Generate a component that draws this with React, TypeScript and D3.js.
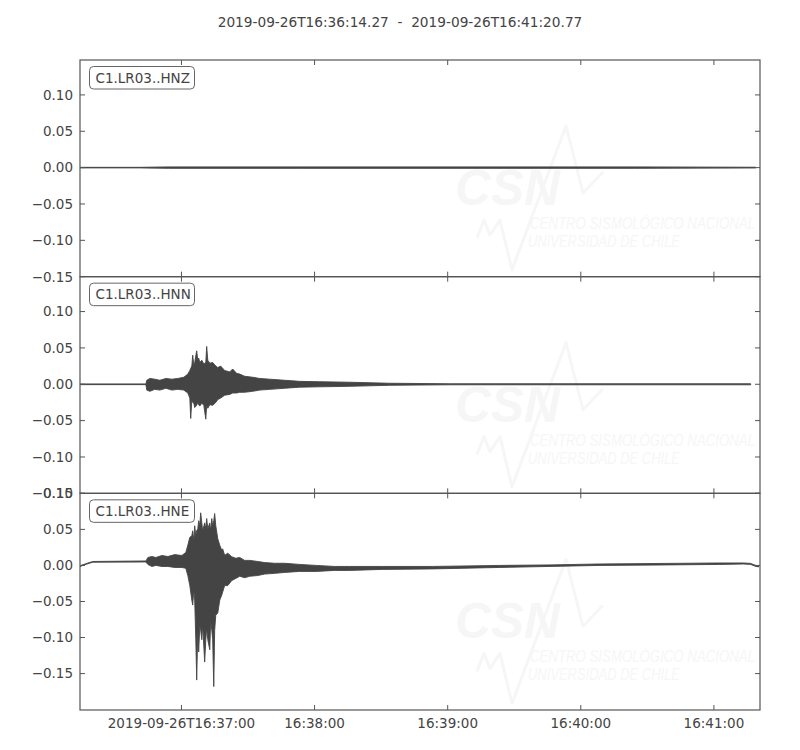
import React from 'react';
import * as d3 from 'd3';

// ---------- data ----------
const titleText = '2019-09-26T16:36:14.27  -  2019-09-26T16:41:20.77';
const startMs = Date.UTC(2019, 8, 26, 16, 36, 14, 270);
const endMs = Date.UTC(2019, 8, 26, 16, 41, 20, 770);

const xTickMinutes = [37, 38, 39, 40, 41];
const xTickLabels = ['2019-09-26T16:37:00', '16:38:00', '16:39:00', '16:40:00', '16:41:00'];

const channels = ['C1.LR03..HNZ', 'C1.LR03..HNN', 'C1.LR03..HNE'];
const yDomainLow = [-0.15, -0.15, -0.2005];
const yDomainHigh = [0.148, 0.148, 0.1];
const yTicks = [-0.15, -0.1, -0.05, 0, 0.05, 0.1];

// envelopes: seconds after start, upper value, lower value
const hnzT = [0, 27, 40, 100, 250, 304.6];
const hnzHi = [0.0004, 0.0004, 0.001, 0.001, 0.001, 0.0005];
const hnzLo = [-0.0004, -0.0004, -0.001, -0.001, -0.001, -0.0005];

const hnnT = [0, 29.7, 30.1, 31.5, 33.7, 36.0, 38.7, 41.4, 44.1, 46.8, 48.6, 49.5, 49.9, 50.4, 50.8, 51.3, 51.7, 52.6, 53.1, 53.5, 54.0, 54.9, 55.8, 56.7, 57.1, 57.6, 58.5, 59.8, 61.2, 62.1, 63.4, 65.2, 67.5, 68.8, 70.6, 72.0, 74.2, 77.8, 81.0, 85.5, 92.2, 99.0, 108.0, 121.5, 139.5, 166.5, 302.3];
const hnnHi = [0.0005, 0.0005, 0.0055, 0.008, 0.007, 0.0055, 0.008, 0.007, 0.008, 0.0097, 0.014, 0.019, 0.022, 0.025, 0.040, 0.026, 0.030, 0.046, 0.033, 0.036, 0.030, 0.033, 0.028, 0.030, 0.052, 0.033, 0.029, 0.030, 0.025, 0.023, 0.025, 0.019, 0.017, 0.021, 0.015, 0.014, 0.011, 0.0097, 0.008, 0.007, 0.0055, 0.004, 0.0035, 0.0028, 0.0014, 0.0007, 0.0007];
const hnnLo = [-0.0005, -0.0005, -0.008, -0.0097, -0.007, -0.008, -0.0055, -0.008, -0.007, -0.008, -0.012, -0.019, -0.047, -0.022, -0.025, -0.026, -0.032, -0.029, -0.025, -0.028, -0.030, -0.026, -0.029, -0.048, -0.029, -0.033, -0.028, -0.029, -0.025, -0.021, -0.019, -0.015, -0.014, -0.012, -0.012, -0.011, -0.011, -0.0097, -0.008, -0.007, -0.0055, -0.004, -0.0035, -0.0028, -0.0014, -0.0007, -0.0007];

const hneT = [0, 2.7, 5.8, 29.7, 30.6, 32.4, 34.2, 36.9, 39.6, 42.7, 45.9, 47.7, 48.6, 49.5, 50.4, 50.8, 51.3, 51.7, 52.2, 52.6, 53.1, 53.5, 54.0, 54.4, 54.9, 55.3, 56.2, 56.7, 57.1, 57.6, 58.5, 58.9, 59.4, 59.8, 60.3, 60.7, 61.2, 62.1, 63.0, 63.9, 64.3, 65.2, 66.6, 68.4, 70.2, 72.0, 74.2, 76.5, 80.1, 83.2, 87.7, 92.2, 99.0, 106.6, 114.7, 121.5, 136.3, 158.8, 189.0, 211.4, 233.9, 264.1, 287.9, 299.2, 302.3, 304.6, 305.9];
const hneHi = [-0.0005, 0.0025, 0.0055, 0.0062, 0.011, 0.0124, 0.011, 0.0138, 0.0124, 0.015, 0.0138, 0.018, 0.028, 0.039, 0.041, 0.048, 0.034, 0.055, 0.041, 0.048, 0.051, 0.062, 0.055, 0.073, 0.059, 0.048, 0.059, 0.051, 0.065, 0.051, 0.059, 0.048, 0.065, 0.055, 0.062, 0.072, 0.055, 0.037, 0.028, 0.021, 0.023, 0.014, 0.017, 0.012, 0.010, 0.011, 0.007, 0.007, 0.0055, 0.004, 0.003, 0.003, 0.0014, 0.0, -0.0014, -0.0014, -0.0014, -0.0014, 0.0, 0.0007, 0.002, 0.0028, 0.0034, 0.0034, 0.0028, 0.0, -0.0007];
const hneLo = [-0.0015, 0.0015, 0.0045, 0.0048, 0.0014, -0.0014, 0.0, -0.0014, -0.0014, -0.0028, -0.0028, -0.004, -0.014, -0.028, -0.048, -0.055, -0.034, -0.048, -0.103, -0.159, -0.090, -0.120, -0.083, -0.090, -0.103, -0.083, -0.134, -0.103, -0.087, -0.103, -0.117, -0.076, -0.090, -0.103, -0.168, -0.090, -0.069, -0.066, -0.048, -0.041, -0.037, -0.028, -0.028, -0.021, -0.018, -0.015, -0.017, -0.015, -0.014, -0.012, -0.011, -0.0097, -0.0083, -0.0083, -0.0069, -0.0069, -0.0055, -0.0048, -0.0028, -0.0014, 0.0, 0.0007, 0.0014, 0.002, 0.0014, -0.0014, -0.002];

const traceTimes = [hnzT, hnnT, hneT];
const traceHigh = [hnzHi, hnnHi, hneHi];
const traceLow = [hnzLo, hnnLo, hneLo];

// ---------- drawing ----------
const FONT = '"DejaVu Sans", sans-serif';
const TEXT = '#444';
const FRAME = '#555';
const TRACE = '#444';
const WM = '#f6f6f6';

function Watermark({ y0 }: { y0: number }) {
  return (
    <g transform={`translate(0, ${y0})`}>
      <text x={455} y={145} fontFamily='"Liberation Sans", Arial, sans-serif' fontWeight="bold"
        fontStyle="italic" fontSize={50} fill={WM} textLength={105} lengthAdjust="spacingAndGlyphs">CSN</text>
      <path d="M477,178 L484,160 L490,175 L500,160 L512,210 L566,66 L583,133 L603,112"
        fill="none" stroke={WM} strokeWidth={3} strokeLinejoin="round" />
      <text x={530} y={169} fontFamily='"Liberation Sans", Arial, sans-serif' fontStyle="italic"
        fontSize={16} fill={WM} textLength={225} lengthAdjust="spacingAndGlyphs">CENTRO SISMOLÓGICO NACIONAL</text>
      <text x={528} y={187} fontFamily='"Liberation Sans", Arial, sans-serif' fontStyle="italic"
        fontSize={16} fill={WM} textLength={152} lengthAdjust="spacingAndGlyphs">UNIVERSIDAD DE CHILE</text>
    </g>
  );
}

export default function App() {
  const W = 800;
  const H = 750;
  const left = 80;
  const right = 760;
  const top = 60;
  const bottom = 710;
  const ph = (bottom - top) / 3;
  const tick = 5;

  const x = d3.scaleUtc().domain([new Date(startMs), new Date(endMs)]).range([left, right]);
  const xTickDates = xTickMinutes.map((m) => new Date(Date.UTC(2019, 8, 26, 16, m, 0)));
  const fmt = d3.format('.2f');
  const yLabel = (v: number) => fmt(Math.abs(v) < 1e-9 ? 0 : v).replace('-', '\u2212');

  return (
    <svg width={W} height={H} style={{ position: 'absolute', left: 0, top: 0, background: '#fff' }}
      fontFamily={FONT}>
      <rect x={0} y={0} width={W} height={H} fill="#fff" />
      <text x={400} y={26.5} textAnchor="middle" fontSize={13.7} fill={TEXT} style={{ whiteSpace: 'pre' }}>
        {titleText}
      </text>
      {channels.map((ch, k) => {
        const y0 = top + k * ph;
        const y1 = y0 + ph;
        const y = d3.scaleLinear().domain([yDomainLow[k], yDomainHigh[k]]).range([y1, y0]);
        const ts = traceTimes[k];
        const hi = traceHigh[k];
        const lo = traceLow[k];
        const area = d3
          .area<number>()
          .x((i) => x(new Date(startMs + ts[i] * 1000)))
          .y0((i) => y(lo[i]))
          .y1((i) => y(hi[i]));
        const idx = d3.range(ts.length);
        const clipId = `clip${k}`;
        return (
          <g key={ch}>
            <defs>
              <clipPath id={clipId}>
                <rect x={left} y={y0} width={right - left} height={ph} />
              </clipPath>
            </defs>
            <g clipPath={`url(#${clipId})`}>
              <Watermark y0={y0} />
              <path d={area(idx) || ''} fill={TRACE} stroke={TRACE} strokeWidth={0.9} strokeLinejoin="round" />
            </g>
            {yTicks.map((v) => {
              const yy = y(v);
              return (
                <g key={v}>
                  <line x1={left} x2={left + tick} y1={yy} y2={yy} stroke={FRAME} strokeWidth={1} />
                  <line x1={right - tick} x2={right} y1={yy} y2={yy} stroke={FRAME} strokeWidth={1} />
                  <text x={73} y={yy} dy="0.36em" textAnchor="end" fontSize={13.5} fill={TEXT}>
                    {yLabel(v)}
                  </text>
                </g>
              );
            })}
            {xTickDates.map((d, i) => {
              const xx = x(d);
              return (
                <g key={i}>
                  <line x1={xx} x2={xx} y1={y0} y2={y0 + tick} stroke={FRAME} strokeWidth={1} />
                  <line x1={xx} x2={xx} y1={y1 - tick} y2={y1} stroke={FRAME} strokeWidth={1} />
                </g>
              );
            })}
            <rect x={left} y={y0} width={right - left} height={ph} fill="none" stroke={FRAME} strokeWidth={1.2} />
            <rect x={89.5} y={y0 + 6.5} width={105} height={22.5} rx={4} ry={4} fill="#fff" stroke="#666" strokeWidth={1} />
            <text x={95.5} y={y0 + 22.5} fontSize={13.5} fill={TEXT}>{ch}</text>
          </g>
        );
      })}
      {xTickDates.map((d, i) => (
        <text key={i} x={x(d)} y={727.5} textAnchor="middle" fontSize={13.5} fill={TEXT}>
          {xTickLabels[i]}
        </text>
      ))}
    </svg>
  );
}
